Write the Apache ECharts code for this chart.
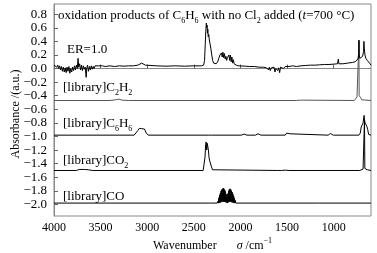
<!DOCTYPE html>
<html>
<head>
    <meta charset="utf-8" />
    <title>ECharts</title>
    <script src="https://cdn.jsdelivr.net/npm/echarts@6/dist/echarts.min.js"></script>
    <style>
        body { margin: 0; background: #fff; }
        #main { width: 377px; height: 253px; }
    </style>
</head>
<body>
<div id="main"></div>
<script type="text/javascript">
    // tick labels
    let xTicks = [1000, 1500, 2000, 2500, 3000, 3500, 4000];
    let yTicks = [-2.0, -1.8, -1.6, -1.4, -1.2, -1.0, -0.8, -0.6, -0.4, -0.2, 0.0, 0.2, 0.4, 0.6, 0.8];

    // ER=1.0 measured spectrum  [wavenumber, absorbance]
    let erData = [[4000,0.05],[3990,0.03],[3980,0.06],[3970,0.02],[3960,0.05],[3950,0.0],[3940,0.04],[3930,-0.02],[3920,0.03],[3910,-0.04],
        [3900,0.02],[3890,-0.05],[3880,0.01],[3870,-0.06],[3860,0.02],[3850,-0.04],[3840,0.03],[3830,-0.07],[3820,0.0],[3810,-0.05],
        [3800,0.02],[3790,-0.03],[3780,0.04],[3770,-0.02],[3760,0.05],[3750,0.0],[3742,0.15],[3735,0.02],[3725,0.07],[3715,-0.02],
        [3705,0.05],[3695,-0.03],[3685,0.04],[3675,-0.01],[3665,0.02],[3655,-0.13],[3648,0.01],[3640,0.05],[3630,-0.04],[3620,0.03],
        [3610,-0.02],[3600,0.04],[3590,-0.01],[3580,0.03],[3570,0.0],[3560,0.04],[3540,0.02],[3520,0.04],[3500,0.02],[3480,0.04],
        [3450,0.03],[3400,0.04],[3350,0.03],[3300,0.04],[3250,0.035],[3200,0.04],[3150,0.04],[3100,0.05],[3080,0.07],[3060,0.08],
        [3050,0.07],[3040,0.08],[3020,0.05],[3000,0.04],[2900,0.04],[2800,0.035],[2700,0.04],[2600,0.035],[2500,0.04],[2420,0.04],
        [2395,0.05],[2385,0.12],[2378,0.35],[2372,0.55],[2366,0.67],[2362,0.6],[2358,0.64],[2354,0.52],[2350,0.58],[2346,0.47],
        [2340,0.5],[2334,0.42],[2326,0.4],[2318,0.3],[2308,0.2],[2298,0.12],[2288,0.08],[2275,0.06],[2260,0.07],[2245,0.1],
        [2230,0.16],[2220,0.2],[2212,0.18],[2204,0.23],[2196,0.17],[2188,0.24],[2180,0.16],[2172,0.22],[2164,0.14],[2156,0.18],
        [2148,0.12],[2140,0.16],[2132,0.14],[2124,0.2],[2116,0.12],[2108,0.2],[2100,0.1],[2092,0.17],[2084,0.08],[2076,0.13],
        [2068,0.07],[2060,0.09],[2045,0.05],[2020,0.04],[2000,0.04],[1950,0.035],[1900,0.03],[1850,0.03],[1800,0.02],[1750,0.02],
        [1720,0.01],[1700,-0.02],[1690,0.02],[1680,-0.03],[1670,0.01],[1650,-0.01],[1640,0.02],[1630,-0.05],[1620,0.0],[1610,0.02],
        [1600,-0.03],[1590,0.01],[1580,-0.06],[1570,0.02],[1560,0.0],[1550,0.03],[1540,0.0],[1520,0.03],[1500,0.01],[1480,0.03],
        [1460,0.02],[1440,0.04],[1400,0.03],[1350,0.04],[1300,0.045],[1250,0.05],[1200,0.05],[1150,0.055],[1100,0.06],[1050,0.06],
        [1000,0.065],[960,0.07],[950,0.14],[945,0.07],[900,0.07],[850,0.08],[800,0.09],[770,0.1],[750,0.12],[740,0.14],
        [732,0.2],[729,0.42],[726,0.2],[720,0.15],[710,0.16],[700,0.15],[690,0.18],[680,0.25],[676,0.4],[672,0.3],
        [665,0.2],[655,0.15],[640,0.12],[625,0.1],[610,0.07],[600,0.05]];

    // library spectra, each shifted down
    let c2h2Data = [[4000,-0.47],[3400,-0.47],[3340,-0.46],[3320,-0.44],[3305,-0.45],[3290,-0.44],[3270,-0.465],[3200,-0.47],
        [1400,-0.47],[1360,-0.465],[1340,-0.46],[1320,-0.465],[1300,-0.47],[780,-0.47],[765,-0.45],[750,-0.42],[740,-0.43],
        [733,-0.40],[730,0.40],[727,-0.40],[720,-0.42],[710,-0.43],[700,-0.46],[690,-0.47],[600,-0.47]];

    let c6h6Data = [[4000,-0.98],[3140,-0.98],[3120,-0.96],[3100,-0.91],[3085,-0.88],[3070,-0.9],[3060,-0.885],[3045,-0.87],
        [3030,-0.89],[3010,-0.95],[2990,-0.98],[2340,-0.98],[2325,-0.97],[2310,-0.98],[1990,-0.98],[1970,-0.97],[1960,-0.965],
        [1945,-0.975],[1930,-0.98],[1840,-0.98],[1825,-0.965],[1810,-0.96],[1795,-0.97],[1780,-0.98],[1520,-0.98],[1505,-0.95],
        [1485,-0.94],[1470,-0.96],[1455,-0.98],[1060,-0.98],[1045,-0.96],[1035,-0.955],[1020,-0.97],[1005,-0.98],[730,-0.98],
        [715,-0.95],[705,-0.86],[695,-0.83],[685,-0.8],[678,-0.72],[674,-0.69],[670,-0.75],[664,-0.8],[655,-0.82],[645,-0.85],
        [635,-0.9],[625,-0.97],[615,-0.98],[600,-0.98]];

    let co2Data = [[4000,-1.5],[3760,-1.5],[3745,-1.49],[3730,-1.485],[3715,-1.495],[3700,-1.485],[3685,-1.49],[3670,-1.485],
        [3650,-1.495],[3630,-1.49],[3610,-1.495],[3590,-1.5],[2400,-1.5],[2388,-1.48],[2380,-1.3],[2374,-1.12],[2368,-1.08],
        [2362,-1.2],[2356,-1.1],[2350,-1.08],[2344,-1.2],[2338,-1.3],[2330,-1.36],[2320,-1.38],[2310,-1.45],[2300,-1.49],
        [2285,-1.5],[1600,-1.5],[1590,-1.495],[1560,-1.5],[1520,-1.495],[1480,-1.5],[720,-1.5],[700,-1.49],[685,-1.48],
        [675,-1.47],[670,-0.75],[666,-1.47],[655,-1.48],[640,-1.49],[620,-1.5],[600,-1.5]];

    let coData = [[4000,-1.98],[2320,-1.98],[2310,-1.97],[2300,-1.98],[2250,-1.98],[2240,-1.95],[2236,-1.98],[2232,-1.9],
        [2228,-1.98],[2224,-1.86],[2220,-1.97],[2216,-1.83],[2212,-1.97],[2208,-1.8],[2204,-1.96],[2200,-1.78],[2196,-1.96],
        [2192,-1.77],[2188,-1.96],[2184,-1.76],[2180,-1.96],[2176,-1.77],[2172,-1.96],[2168,-1.79],[2164,-1.96],[2160,-1.81],
        [2156,-1.97],[2152,-1.85],[2148,-1.97],[2144,-1.9],[2140,-1.98],[2136,-1.84],[2132,-1.97],[2128,-1.8],[2124,-1.96],
        [2120,-1.78],[2116,-1.96],[2112,-1.77],[2108,-1.96],[2104,-1.78],[2100,-1.96],[2096,-1.8],[2092,-1.97],[2088,-1.82],
        [2084,-1.97],[2080,-1.85],[2076,-1.97],[2072,-1.88],[2068,-1.98],[2064,-1.91],[2060,-1.98],[2056,-1.94],[2050,-1.98],
        [1200,-1.98],[1180,-1.975],[1160,-1.98],[600,-1.98]];

    let font = '"Liberation Serif", "Times New Roman", serif';
    // 12px for axis names, 13px for the notes inside the plot
    function richSet(size) {
        let sub = Math.round(size * 0.65);
        return {
            a: { fontFamily: font, fontSize: size, color: '#000', lineHeight: 17 },
            i: { fontFamily: font, fontSize: size, color: '#000', lineHeight: 17, fontStyle: 'italic' },
            s: { fontFamily: font, fontSize: sub, color: '#000', lineHeight: 17, verticalAlign: 'bottom' },
            p: { fontFamily: font, fontSize: sub, color: '#000', lineHeight: 17, verticalAlign: 'top' },
            g: { width: 20 }
        };
    }
    let richAxis = richSet(12);
    let richNote = richSet(13);

    function label(x, y, text) {
        return {
            type: 'text', x: x, y: y,
            style: { text: text, rich: richNote, verticalAlign: 'middle', align: 'left' }
        };
    }

    function line(data, color) {
        return {
            type: 'line', data: data, showSymbol: false, silent: true,
            lineStyle: { color: color, width: 1 }
        };
    }

    let myChart = echarts.init(document.getElementById('main'));
    myChart.setOption({
        animation: false,
        grid: {
            left: 54, right: 6, top: 4, bottom: 37, show: true, borderColor: '#888', borderWidth: 1,
            containLabel: false, outerBoundsMode: 'none'
        },
        xAxis: {
            type: 'value', inverse: true, min: 600, max: 4000,
            name: '{a|Wavenumber}{g|}{i|σ}{a| /cm}{p|−1}',
            nameLocation: 'middle', nameGap: 21, nameMoveOverlap: false,
            nameTextStyle: { rich: richAxis },
            axisLine: { lineStyle: { color: '#888' } },
            axisTick: { inside: true, length: 4, customValues: xTicks, lineStyle: { color: '#666' } },
            axisLabel: {
                customValues: xTicks, color: '#000', fontFamily: font, fontSize: 12, margin: 6,
                formatter: function (v) { return String(v); }
            },
            splitLine: { show: false }
        },
        yAxis: {
            type: 'value', min: -2.17, max: 0.95,
            name: 'Absorbance /(a.u.)',
            nameLocation: 'middle', nameGap: 32, nameMoveOverlap: false,
            nameTextStyle: { fontFamily: font, fontSize: 12, color: '#000', padding: [0, 8, 0, 0] },
            axisLine: { show: true, lineStyle: { color: '#888' } },
            axisTick: { show: true, inside: true, length: 4, customValues: yTicks, lineStyle: { color: '#666' } },
            axisLabel: {
                customValues: yTicks, color: '#000', fontFamily: font, fontSize: 13, margin: 7,
                formatter: function (v) { return v.toFixed(1).replace('-', '\u2212'); }
            },
            splitLine: { show: false }
        },
        graphic: [
            label(58, 16, '{a|oxidation products of C}{s|6}{a|H}{s|6}{a| with no Cl}{s|2}{a| added (}{i|t}{a|=700 °C)}'),
            label(67, 50, '{a|ER=1.0}'),
            label(63, 88, '{a|[library]C}{s|2}{a|H}{s|2}'),
            label(63, 124, '{a|[library]C}{s|6}{a|H}{s|6}'),
            label(63, 161, '{a|[library]CO}{s|2}'),
            label(63, 197, '{a|[library]CO}')
        ],
        series: [
            line(c2h2Data, '#555'),
            line(c6h6Data, '#000'),
            line(co2Data, '#000'),
            line(coData, '#000'),
            line(erData, '#000')
        ]
    });
</script>
</body>
</html>
